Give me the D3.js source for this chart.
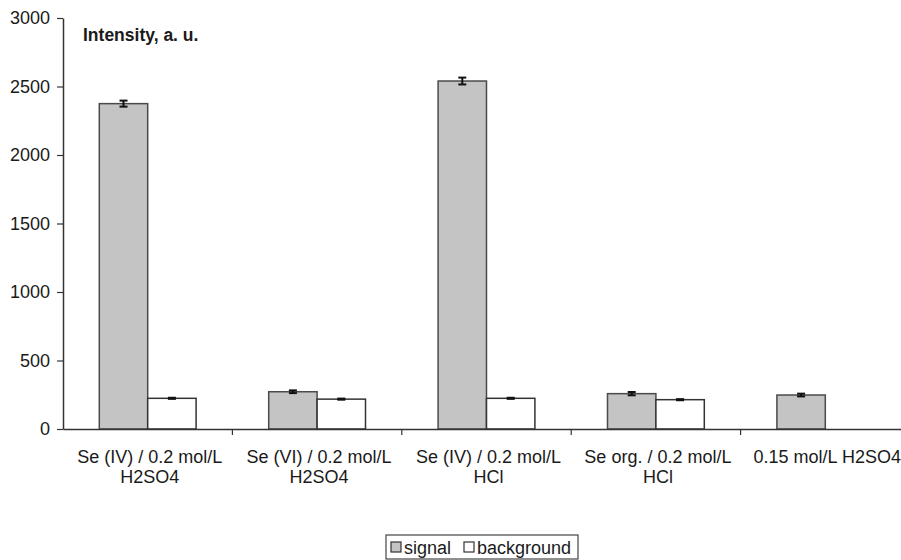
<!DOCTYPE html>
<html>
<head>
<meta charset="utf-8">
<script src="https://cdn.jsdelivr.net/npm/d3@7"></script>
<style>
  html, body { margin: 0; padding: 0; background: #fff; }
  svg { display: block; font-family: "Liberation Sans", Arial, sans-serif; }
</style>
</head>
<body>
<svg id="chart" width="901" height="560"></svg>
<script>
// ---- data ----
const categories = [
  ["Se (IV) / 0.2 mol/L", "H2SO4"],
  ["Se (VI) / 0.2 mol/L", "H2SO4"],
  ["Se (IV) / 0.2 mol/L", "HCl"],
  ["Se org. / 0.2 mol/L", "HCl"],
  ["0.15 mol/L H2SO4"]
];
const signal = [2375, 272, 2540, 258, 248];
const signalErr = [22, 10, 25, 12, 10];
const background = [224, 218, 224, 214, null];
const backgroundErr = [4, 4, 4, 4, null];
const yTicks = [0, 500, 1000, 1500, 2000, 2500, 3000];
const seriesNames = ["signal", "background"];
const yTitle = "Intensity, a. u.";

// ---- layout ----
const svg = d3.select("#chart");
const plotLeft = 63, plotRight = 910, plotTop = 18, plotBottom = 429;
const axisColor = "#333";
const textColor = "#1a1a1a";
const fontSize = 18;

const x = d3.scaleBand().domain(d3.range(categories.length)).range([plotLeft, plotRight]).padding(0);
const y = d3.scaleLinear().domain([0, 3000]).range([plotBottom, plotTop]);

const barW = x.bandwidth() / 3.5;

// bars
const series = [
  { name: seriesNames[0], values: signal, err: signalErr, fill: "#c4c4c4", stroke: "#4a4a4a" },
  { name: seriesNames[1], values: background, err: backgroundErr, fill: "#ffffff", stroke: "#333" }
];

series.forEach((s, si) => {
  const g = svg.append("g");
  const data = s.values.map((v, i) => ({ i, v, e: s.err[i] })).filter(d => d.v != null);
  g.selectAll("rect").data(data).enter().append("rect")
    .attr("x", d => x(d.i) + x.bandwidth() / 2 - barW + si * barW)
    .attr("y", d => y(d.v))
    .attr("width", barW)
    .attr("height", d => y(0) - y(d.v))
    .attr("fill", s.fill)
    .attr("stroke", s.stroke)
    .attr("stroke-width", 1.5);
  // error bars
  const eg = svg.append("g").attr("stroke", "#111").attr("stroke-width", 2);
  data.forEach(d => {
    const cx = x(d.i) + x.bandwidth() / 2 - barW / 2 + si * barW;
    eg.append("line").attr("x1", cx).attr("x2", cx).attr("y1", y(d.v + d.e)).attr("y2", y(d.v - d.e));
    eg.append("line").attr("x1", cx - 4).attr("x2", cx + 4).attr("y1", y(d.v + d.e)).attr("y2", y(d.v + d.e));
    eg.append("line").attr("x1", cx - 4).attr("x2", cx + 4).attr("y1", y(d.v - d.e)).attr("y2", y(d.v - d.e));
  });
});

// y axis
const yAxis = svg.append("g")
  .attr("transform", `translate(${plotLeft},0)`)
  .call(d3.axisLeft(y).tickValues(yTicks).tickFormat(d3.format("d")).tickSize(6).tickSizeOuter(0).tickPadding(7));
yAxis.select(".domain").attr("stroke", axisColor).attr("stroke-width", 1.5);
yAxis.selectAll(".tick line").attr("stroke", axisColor).attr("stroke-width", 1.2);
yAxis.selectAll(".tick text").attr("font-size", fontSize).attr("fill", textColor)
  .attr("font-family", "'Liberation Sans', Arial, sans-serif");

// x axis
const xAxis = svg.append("g")
  .attr("transform", `translate(0,${plotBottom})`)
  .call(d3.axisBottom(x).tickSize(0).tickFormat(""));
xAxis.select(".domain").attr("stroke", axisColor).attr("stroke-width", 1.5);
// category boundary ticks
const bounds = d3.range(1, categories.length).map(i => x(i));
xAxis.selectAll(".bound").data(bounds).enter().append("line")
  .attr("class", "bound")
  .attr("x1", d => d).attr("x2", d => d)
  .attr("y1", 0).attr("y2", 6)
  .attr("stroke", axisColor).attr("stroke-width", 1.2);

// category labels
categories.forEach((lines, i) => {
  const cx = x(i) + x.bandwidth() / 2 + 2;
  const t = svg.append("text")
    .attr("x", cx)
    .attr("y", 463)
    .attr("text-anchor", "middle")
    .attr("font-size", fontSize)
    .attr("fill", textColor);
  lines.forEach((ln, j) => {
    t.append("tspan").attr("x", cx).attr("dy", j === 0 ? 0 : 20).text(ln);
  });
});

// y title
svg.append("text")
  .attr("x", 83).attr("y", 41)
  .attr("font-size", 17.5)
  .attr("font-weight", "bold")
  .attr("fill", textColor)
  .text(yTitle);

// legend
const lg = svg.append("g");
lg.append("rect").attr("x", 386).attr("y", 535).attr("width", 192).attr("height", 24)
  .attr("fill", "#fff").attr("stroke", "#444").attr("stroke-width", 1.2);
const legendItems = [
  { name: seriesNames[0], fill: "#c4c4c4", x: 391, tx: 404 },
  { name: seriesNames[1], fill: "#ffffff", x: 464, tx: 477 }
];
legendItems.forEach(it => {
  lg.append("rect").attr("x", it.x).attr("y", 542).attr("width", 10).attr("height", 10)
    .attr("fill", it.fill).attr("stroke", "#333").attr("stroke-width", 1.2);
  lg.append("text").attr("x", it.tx).attr("y", 554).attr("font-size", fontSize)
    .attr("fill", textColor).text(it.name);
});
</script>
</body>
</html>
